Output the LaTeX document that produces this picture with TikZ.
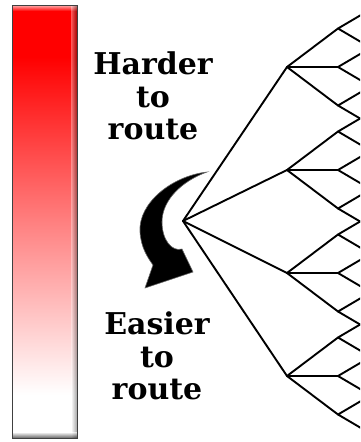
\documentclass[tikz,border=0pt]{standalone}
\usepackage{fontspec}
\newfontfamily\routefont{DejaVu Serif}
\usepackage{tikz}
\usetikzlibrary{calc}
\pgfdeclareverticalshading{heatbar}{100bp}{color(0bp)=(white); color(30bp)=(white); color(50bp)=(red!50); color(69bp)=(red); color(100bp)=(red)}
\tikzset{
  wire/.style={
    line width=1.9pt,
    line join=round,
    line cap=round
  },
  routelabel/.style={
    font=\routefont\bfseries\fontsize{30}{32.5}\selectfont,
    align=center,
    inner sep=0pt
  },
  swoosh/.style={fill=black, draw=black!60, line width=0.6pt}
}

\begin{document}
\begin{tikzpicture}[x=1pt,y=-1pt]
  \clip (0,0) rectangle (360,442);
  % colour bar
  \shade[shading=heatbar] (12,5) rectangle (77,438);
  \shade[top color=white!70!red, bottom color=red] (12,5) rectangle (77,11);
  \shade[left color=white, right color=black, opacity=0.35] (71,5) rectangle (77,438);
  \shade[top color=white, bottom color=black, opacity=0.6] (12,432) rectangle (77,438);
  \draw[black!75, line width=0.8pt] (12,5) rectangle (77,438);
  % labels
  \node[routelabel, anchor=north] (harder) at (153,52) {Harder\\to\\route};
  \node[routelabel, anchor=north] (easier) at (157,312) {Easier\\to\\route};
  % curved arrow
  \fill[swoosh] (207,172) .. controls (172,176) and (138,203) .. (140,232)
    .. controls (141,248) and (148,258) .. (153,265) -- (145,288) -- (193,272)
    -- (182,249) .. controls (172,252) and (162,240) .. (162,222)
    .. controls (162,200) and (182,181) .. (207,172) -- cycle;
  % routing tree
  \coordinate (root) at (183,221);
  \foreach \g/\y in {a/67,b/170,c/273,d/376} {
    \coordinate (\g) at (287,\y);
    \draw[wire] (root) -- (\g);
    \foreach \k/\dy in {1/-38.5,2/0,3/38.5} {
      \coordinate (\g\k) at (338,{\y+\dy});
      \coordinate (\g\k up) at (372,{\y+\dy-20});
      \coordinate (\g\k dn) at (372,{\y+\dy+20});
      \draw[wire] (\g) -- (\g\k);
      \draw[wire] (\g\k up) -- (\g\k) -- (\g\k dn);
    }
  }
\end{tikzpicture}
\end{document}
